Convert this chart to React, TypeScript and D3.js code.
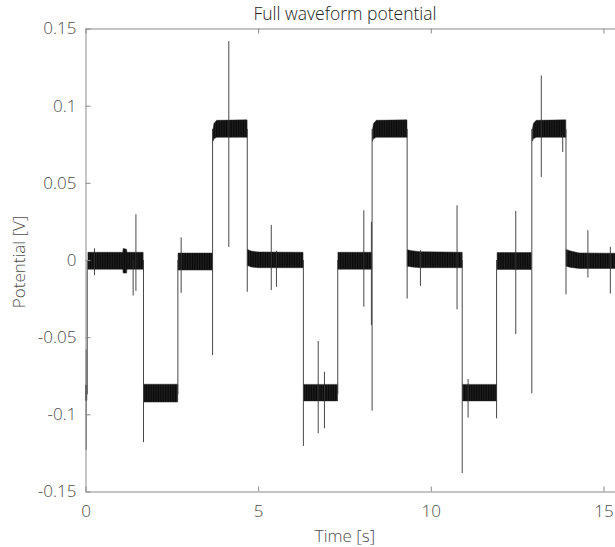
import React, { useEffect, useRef } from "react";
import * as d3 from "d3";

// Axis ticks
const xTicks = [0, 5, 10, 15];
const yTicks = [-0.15, -0.1, -0.05, 0, 0.05, 0.1, 0.15];
const yTickLabels = ["-0.15", "-0.1", "-0.05", "0", "0.05", "0.1", "0.15"];

// Plateaus of the waveform: envelope (min / max) of the dense oscillation band
const bandTime = [
  [0.0, 0.04],
  [0.07, 1.08, 1.09, 1.19, 1.2, 1.67],
  [1.69, 2.67],
  [2.68, 3.67],
  [3.69, 3.72, 3.8, 4.68],
  [4.69, 4.8, 5.0, 6.3],
  [6.32, 7.3],
  [7.31, 8.29],
  [8.31, 8.34, 8.42, 9.31],
  [9.32, 9.45, 9.7, 10.91],
  [10.92, 11.9],
  [11.92, 12.91],
  [12.94, 12.97, 13.05, 13.91],
  [13.92, 14.05, 14.3, 16.0],
];
const bandLow = [
  [-0.091, -0.091],
  [-0.006, -0.006, -0.0085, -0.0085, -0.006, -0.006],
  [-0.092, -0.092],
  [-0.0065, -0.0065],
  [0.077, 0.0785, 0.0795, 0.0795],
  [-0.0035, -0.0045, -0.005, -0.005],
  [-0.0913, -0.0913],
  [-0.006, -0.006],
  [0.077, 0.0785, 0.0795, 0.0795],
  [-0.004, -0.0045, -0.005, -0.005],
  [-0.0913, -0.0913],
  [-0.0061, -0.0061],
  [0.077, 0.0785, 0.0795, 0.0795],
  [-0.004, -0.0048, -0.0055, -0.0055],
];
const bandHigh = [
  [-0.081, -0.081],
  [0.005, 0.005, 0.0075, 0.007, 0.005, 0.005],
  [-0.0805, -0.0805],
  [0.0045, 0.0045],
  [0.084, 0.0885, 0.0905, 0.0908],
  [0.0068, 0.0058, 0.0052, 0.005],
  [-0.0806, -0.0806],
  [0.005, 0.005],
  [0.084, 0.0885, 0.0905, 0.0908],
  [0.0066, 0.006, 0.0054, 0.005],
  [-0.0806, -0.0806],
  [0.0048, 0.0048],
  [0.084, 0.0885, 0.0905, 0.0908],
  [0.0068, 0.0058, 0.0046, 0.0042],
];

// Step transitions between levels (including their overshoot)
const stepTime = [0.02, 0.05, 1.68, 2.675, 3.68, 4.685, 6.31, 7.305, 8.3, 9.315, 10.91, 11.905, 12.925, 13.915];
const stepLow = [-0.123, -0.087, -0.118, -0.087, -0.0616, -0.0206, -0.1205, -0.087, -0.0976, -0.025, -0.138, -0.1026, -0.0864, -0.0223];
const stepHigh = [-0.058, 0.0, 0.0, 0.0, 0.085, 0.085, 0.0, 0.0, 0.085, 0.085, 0.0, 0.0, 0.085, 0.085];

// Isolated spikes
const spikeTime = [0.26, 1.38, 1.46, 2.77, 4.15, 5.38, 5.53, 6.74, 6.92, 8.06, 8.28, 9.7, 10.76, 11.08, 12.46, 13.2, 13.82, 14.55, 15.2];
const spikeLow = [-0.0098, -0.023, -0.02, -0.0213, 0.0085, -0.0195, -0.0174, -0.1123, -0.109, -0.0303, -0.0422, -0.0168, -0.032, -0.1021, -0.048, 0.0538, 0.07, -0.0113, -0.0217];
const spikeHigh = [0.0076, 0.0, 0.0296, 0.0146, 0.1418, 0.0227, 0.006, -0.0525, -0.0724, 0.0322, 0.0247, 0.0063, 0.0355, -0.0771, 0.0318, 0.1196, 0.0808, 0.0193, 0.0085];

const WaveformChart = ({ width = 615, height = 547 }) => {
  const svgRef = useRef<SVGSVGElement>(null);

  useEffect(() => {
    const svg = d3.select(svgRef.current);
    svg.selectAll("*").remove();

    const left = 85.5;
    const top = 28.5;
    const bottom = 491.5;

    const x = d3.scaleLinear().domain([0, 16]).range([left, left + 16 * 34.53]);
    const y = d3.scaleLinear().domain([-0.15, 0.15]).range([bottom, top]);

    const font = "'Open Sans', 'Noto Sans', sans-serif";
    const axisColor = "#8a8a8a";
    const textColor = "#4d4d4d";

    // striped fill so the dense oscillation looks like the sampled trace
    const pattern = svg
      .append("defs")
      .append("pattern")
      .attr("id", "osc")
      .attr("patternUnits", "userSpaceOnUse")
      .attr("width", 1.7)
      .attr("height", 10);
    pattern.append("rect").attr("width", 1.7).attr("height", 10).attr("fill", "#080808");
    pattern.append("rect").attr("x", 1.3).attr("width", 0.4).attr("height", 10).attr("fill", "#3a3a3a");

    // Oscillation bands
    const area = d3
      .area<{ t: number; lo: number; hi: number }>()
      .x((d) => x(d.t))
      .y0((d) => y(d.lo))
      .y1((d) => y(d.hi));

    bandTime.forEach((ts, i) => {
      const pts = ts.map((t, j) => ({ t, lo: bandLow[i][j], hi: bandHigh[i][j] }));
      svg
        .append("path")
        .datum(pts)
        .attr("d", area)
        .attr("fill", "url(#osc)")
        .attr("stroke", "#222")
        .attr("stroke-width", 0.5);
    });

    // Steps and spikes
    const drawLines = (ts: number[], lo: number[], hi: number[]) => {
      svg
        .append("g")
        .selectAll("line")
        .data(ts)
        .enter()
        .append("line")
        .attr("x1", (d) => x(d))
        .attr("x2", (d) => x(d))
        .attr("y1", (d, i) => y(lo[i]))
        .attr("y2", (d, i) => y(hi[i]))
        .attr("stroke", "#333")
        .attr("stroke-width", 0.9);
    };
    drawLines(stepTime, stepLow, stepHigh);
    drawLines(spikeTime, spikeLow, spikeHigh);

    // Left axis
    const yAxis = svg
      .append("g")
      .attr("transform", `translate(${left},0)`)
      .call(
        d3
          .axisLeft(y)
          .tickValues(yTicks)
          .tickSize(-5)
          .tickSizeOuter(0)
          .tickPadding(9)
          .tickFormat((d, i) => yTickLabels[i])
      );

    // Bottom axis
    const xAxis = svg
      .append("g")
      .attr("transform", `translate(0,${bottom})`)
      .call(
        d3
          .axisBottom(x)
          .tickValues(xTicks)
          .tickSize(-5)
          .tickSizeOuter(0)
          .tickPadding(13)
          .tickFormat(d3.format("d"))
      );

    // Top axis (box with inward ticks)
    const topAxis = svg
      .append("g")
      .attr("transform", `translate(0,${top})`)
      .call(d3.axisTop(x).tickValues(xTicks).tickSize(-5).tickSizeOuter(0).tickFormat(() => ""));

    [yAxis, xAxis, topAxis].forEach((a) => {
      a.selectAll("path").attr("stroke", axisColor);
      a.selectAll("line").attr("stroke", axisColor);
      a.selectAll("text")
        .attr("fill", textColor)
        .style("font-family", font)
        .style("font-weight", 300)
        .style("font-size", "17px");
    });

    // Title
    svg
      .append("text")
      .attr("x", 345)
      .attr("y", 20)
      .attr("text-anchor", "middle")
      .attr("fill", "#222")
      .style("font-family", font)
      .style("font-weight", 300)
      .style("font-size", "17.5px")
      .text("Full waveform potential");

    // x-axis label
    svg
      .append("text")
      .attr("x", 345)
      .attr("y", 542)
      .attr("text-anchor", "middle")
      .attr("fill", textColor)
      .style("font-family", font)
      .style("font-weight", 300)
      .style("font-size", "17px")
      .text("Time [s]");

    // y-axis label
    svg
      .append("text")
      .attr("transform", "rotate(-90)")
      .attr("x", -262)
      .attr("y", 25)
      .attr("text-anchor", "middle")
      .attr("fill", textColor)
      .style("font-family", font)
      .style("font-weight", 300)
      .style("font-size", "17px")
      .text("Potential [V]");
  }, [width, height]);

  return (
    <svg
      ref={svgRef}
      width={width}
      height={height}
      style={{ position: "absolute", left: 0, top: 0, background: "#fff" }}
    ></svg>
  );
};

export default function App() {
  return <WaveformChart />;
}
